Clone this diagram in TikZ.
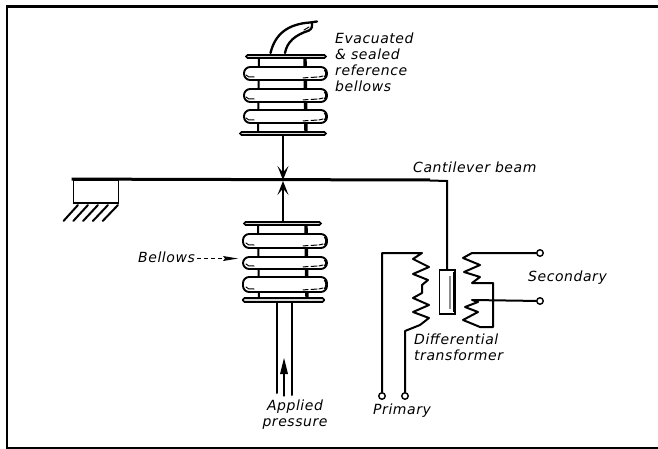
\documentclass[tikz,border=0pt]{standalone}
\usepackage{fontspec}
\setmainfont{DejaVu Sans}[LetterSpace=4]
\usetikzlibrary{arrows.meta}
\tikzset{x=1pt,y=-1pt,
 ink/.style={black,line width=2pt,line cap=round,line join=round},
 fine ink/.style={black,line width=1.1pt,line cap=round,line join=round},
 shade stroke/.style={black,line width=1pt,line cap=round},
 lab/.style={font=\fontsize{14}{16}\selectfont\itshape,inner sep=0pt,align=left},
 plate/.style={draw=black,line width=1.6pt,fill=white!70!gray,rounded corners=1.5pt},
 ring/.style={draw=black,line width=1.9pt,fill=white,rounded corners=6.2pt},
 terminal/.style={circle,draw=black,line width=1.4pt,fill=white,inner sep=0pt,minimum size=6.5pt},
 barb/.style={-{Stealth[length=14pt,width=11pt,inset=6.5pt]}},
}
\newcommand{\ringmarks}[3]{% right end x, top y, bottom y
  \draw[shade stroke] (#1-24,#3-2) -- (#1-19,#3-2.5) (#1-16,#3-2.5) -- (#1-10,#3-3) (#1-8,#3-3) -- (#1-4,#3-4);
  \draw[black,line width=1.4pt] (#1-2.5,#2+3) .. controls (#1-0.5,#2+6) and (#1-0.5,#3-6) .. (#1-2.5,#3-3);
  \draw[shade stroke] (#1-81,#3-5) .. controls (#1-79,#3-3) .. (#1-73,#3-3);
}
\begin{document}
\begin{tikzpicture}
\useasboundingbox (0,0) rectangle (658,449);
% frame: open to the right
\draw[black,line width=2.4pt] (658,6.5) -- (7,6.5) -- (7,448) -- (658,448);
% top bellows necks
\draw[ink] (259,58) -- (258,134);
\draw[black,line width=3.4pt] (305,58) -- (306,134);
% top bellows
\draw[ring] (244,67) rectangle (327,80);
\draw[ring] (244,89) rectangle (327,102);
\draw[ring] (244,110) rectangle (327,123);
\ringmarks{327}{67}{80}
\ringmarks{327}{89}{102}
\ringmarks{327}{110}{123}
\draw[plate] (246,55) rectangle (326,58);
\draw[plate] (240,132) rectangle (326,135);
% vent tube
\draw[ink,line width=2.3pt] (270.5,53) .. controls (275,34) and (288,24) .. (310,22.5) -- (317,21.5);
\draw[ink,line width=2.3pt] (285,53) .. controls (287,42) and (295,35) .. (309,30.5) .. controls (312,28) .. (312,23);
\draw[shade stroke] (304,30) -- (309,27);
% beam and stops
\node[draw=black,line width=1.8pt,minimum width=45pt,minimum height=23pt,inner sep=0pt,fill=white] (block) at (96,191.5) {};
\coordinate (beamend) at (447,181);
\draw[black,line width=3pt] (block.north west) ++(-0.9,0) -- (430,180);
\draw[black,line width=2pt,line join=miter] (430,180.5) -- (beamend) -- (447,270);
\foreach \i in {0,1,2,3,4} \draw[ink] (78+\i*10,205) -- (63.5+\i*9.8,221);
% arrows to beam
\coordinate (upperfoot) at (283,135);
\coordinate (upperhead) at (283,180);
\coordinate (lowerfoot) at (283,222);
\coordinate (lowerhead) at (283,181);
\draw[ink,line cap=butt,barb] (upperfoot) -- (upperhead);
\draw[ink,line cap=butt,barb] (lowerfoot) -- (lowerhead);
% bottom bellows
\draw[ink] (258,225) -- (259,300);
\draw[black,line width=3.4pt] (306,225) -- (307,300);
\draw[ring] (243,234) rectangle (327,248);
\draw[ring] (243,257) rectangle (327,269);
\draw[ring] (243,277) rectangle (327,292);
\ringmarks{327}{234}{248}
\ringmarks{327}{257}{269}
\ringmarks{327}{277}{292}
\draw[plate] (244,222) rectangle (321,225);
\draw[plate] (243,298) rectangle (324,302);
% tube
\draw[ink] (277,303) -- (277,393);
\draw[ink] (292,303) -- (292,395);
\draw[fine ink] (284,396) -- (284,370);
\fill[black] (284,358) -- (288,374) -- (280,374) -- cycle;
% labels
\node[lab,anchor=base west] (bl) at (138,262) {Bellows};
\coordinate (bellowstip) at (238,258.5);
\draw[black,line width=1.1pt,dash pattern=on 4pt off 3pt] (197,258.5) -- (224,258.5);
\fill[black] (bellowstip) -- (223,256) -- (225,258.5) -- (223,261) -- cycle;
% transformer
\node[terminal] (pa) at (382,396) {};
\node[terminal] (pb) at (405,396) {};
\node[terminal] (sa) at (540,253) {};
\node[terminal] (sb) at (540,301) {};
\draw[ink] (pa) -- (382,253) -- (422,253) -- (413,259) -- (429,267) -- (413,274) -- (428,280) -- (422,285)
 -- (422,293) -- (413,298) -- (429,305) -- (413,312) -- (429,318) -- (420,325) -- (405,331) -- (pb);
\draw[black,line width=1.6pt,fill=white] (439.5,270) rectangle (455,314);
\fill[black!45] (449,276) rectangle (451,309);
\draw[black,line width=1pt] (453,272) -- (453,312);
\draw[ink] (sa) -- (472,253) -- (463,258) -- (480,265) -- (464,272) -- (480,277) -- (472,283) -- (493,283)
 -- (493,327) -- (480,327) -- (463,320) -- (478,312) -- (465,307) -- (478,302) -- (472,300) -- (sb);
\node[lab,anchor=north west] (ev) at (335,32.4) {Evacuated\\\&\ sealed\\reference\\bellows};
\node[lab,anchor=base west] (cb) at (413,172) {Cantilever beam};
\node[lab,anchor=base west] (se) at (528,281) {Secondary};
\node[lab,anchor=north west] (dt) at (414,333.4) {Differential\\transformer};
\node[lab,anchor=base west] (pr) at (373,414) {Primary};
\node[lab,align=center,anchor=north] (ap) at (295,399.4) {Applied\\pressure};
\end{tikzpicture}
\end{document}
